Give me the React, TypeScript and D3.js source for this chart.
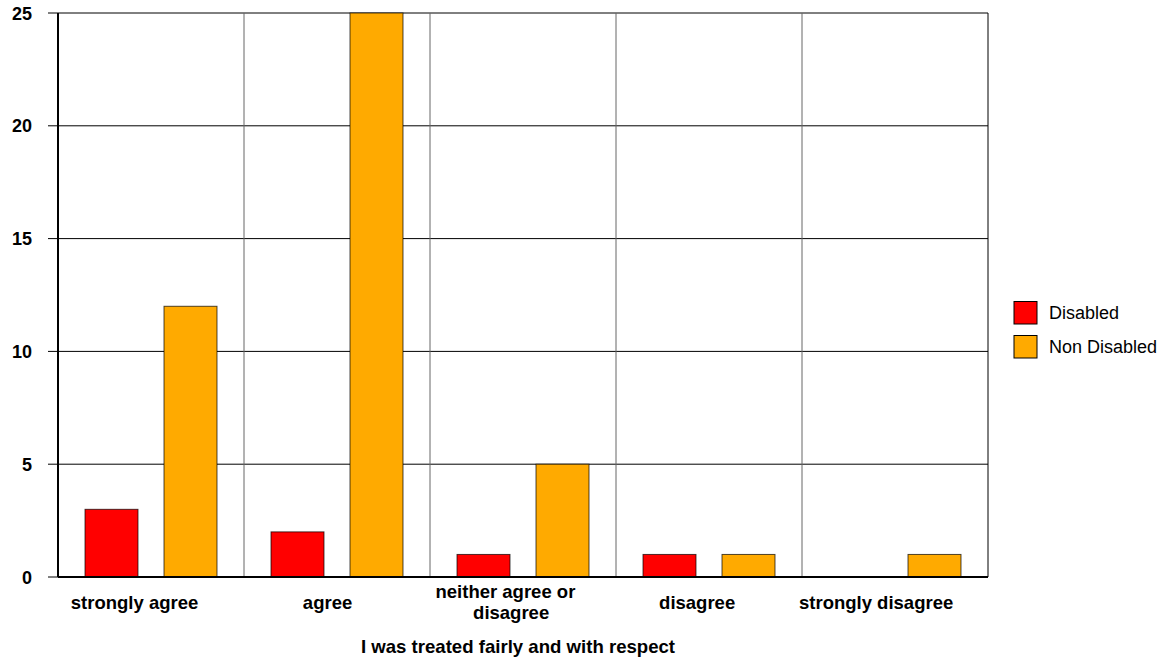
import React, { useLayoutEffect, useRef } from "react";
import * as d3 from "d3";

const categories = [
  ["strongly agree"],
  ["agree"],
  ["neither agree or", "disagree"],
  ["disagree"],
  ["strongly disagree"],
];
const disabled = [3, 2, 1, 1, 0];
const nonDisabled = [12, 25, 5, 1, 1];
const seriesNames = ["Disabled", "Non Disabled"];
const seriesColors = ["#ff0000", "#ffaa00"];
const yTicks = [0, 5, 10, 15, 20, 25];
const axisTitle = "I was treated fairly and with respect";

const W = 1170;
const H = 659;
const left = 58;
const right = 988;
const top = 13;
const bottom = 577;
const font = "'Liberation Sans', Arial, sans-serif";

export default function App() {
  const svgRef = useRef<SVGSVGElement>(null);
  const keys = categories.map((c) => c.join(" "));
  const x = d3.scaleBand<string>().domain(keys).range([left, right]);
  const y = d3.scaleLinear().domain([0, 25]).range([bottom, top]);
  const series = [disabled, nonDisabled];

  // layout inside each category: pad | bar | gap | bar | pad
  const bw = x.bandwidth();
  const gap = bw * (26 / 186);
  const pad = bw * (27 / 186);
  const barW = (bw - 2 * pad - gap) / 2;

  // category labels sit slightly left of the band centre, more so for longer text
  useLayoutEffect(() => {
    if (!svgRef.current) return;
    d3.select(svgRef.current)
      .selectAll<SVGTextElement, unknown>("text.cat")
      .each(function () {
        const c = +(this.getAttribute("data-cx") || 0);
        const w = this.getComputedTextLength();
        d3.select(this).attr("x", c - 5 - 0.09 * w);
      });
  }, []);

  return (
    <svg
      ref={svgRef}
      width={W}
      height={H}
      style={{ position: "absolute", left: 0, top: 0, background: "#fff" }}
      fontFamily={font}
    >
      {/* horizontal grid */}
      {yTicks.map((t) => (
        <g key={t}>
          <line x1={left - 10} x2={right} y1={y(t)} y2={y(t)} stroke="#000" strokeWidth={1} />
          <text
            x={32}
            y={y(t) + 6.5}
            textAnchor="end"
            fontSize={18}
            fontWeight="bold"
          >
            {t}
          </text>
        </g>
      ))}
      {/* vertical grid between categories */}
      {keys.slice(1).map((k) => (
        <line
          key={k}
          x1={x(k)!}
          x2={x(k)!}
          y1={top}
          y2={bottom}
          stroke="#666"
          strokeWidth={1}
        />
      ))}
      {/* bars */}
      {keys.map((k, i) =>
        series.map((s, j) => {
          const bx = x(k)! + pad + j * (barW + gap);
          const v = s[i];
          return (
            <rect
              key={k + j}
              x={bx}
              y={y(v)}
              width={barW}
              height={Math.max(y(0) - y(v), 0)}
              fill={seriesColors[j]}
              stroke="#000"
              strokeWidth={1}
              strokeOpacity={0.7}
            />
          );
        })
      )}
      {/* frame */}
      <line x1={right} x2={right} y1={top} y2={bottom} stroke="#000" strokeWidth={1} />
      <line x1={left} x2={left} y1={top} y2={bottom} stroke="#000" strokeWidth={2} />
      <line x1={left} x2={right} y1={bottom} y2={bottom} stroke="#000" strokeWidth={2} />
      {/* category labels */}
      {categories.map((lines, i) => {
        const cx = x(keys[i])! + bw / 2;
        const y0 = lines.length === 1 ? 609 : 598;
        return lines.map((l, li) => (
          <text
            key={i + "-" + li}
            className="cat"
            data-cx={cx}
            x={cx}
            y={y0 + li * 21}
            textAnchor="middle"
            fontSize={18.5}
            fontWeight="bold"
          >
            {l}
          </text>
        ));
      })}
      <text
        x={(left + right) / 2 - 5}
        y={652.5}
        textAnchor="middle"
        fontSize={18.6}
        fontWeight="bold"
      >
        {axisTitle}
      </text>
      {/* legend */}
      {seriesNames.map((n, j) => (
        <g key={n} transform={`translate(1014, ${301.5 + j * 34})`}>
          <rect width={23} height={22.5} fill={seriesColors[j]} stroke="#000" strokeWidth={1} />
          <text x={35} y={17} fontSize={18}>
            {n}
          </text>
        </g>
      ))}
    </svg>
  );
}
